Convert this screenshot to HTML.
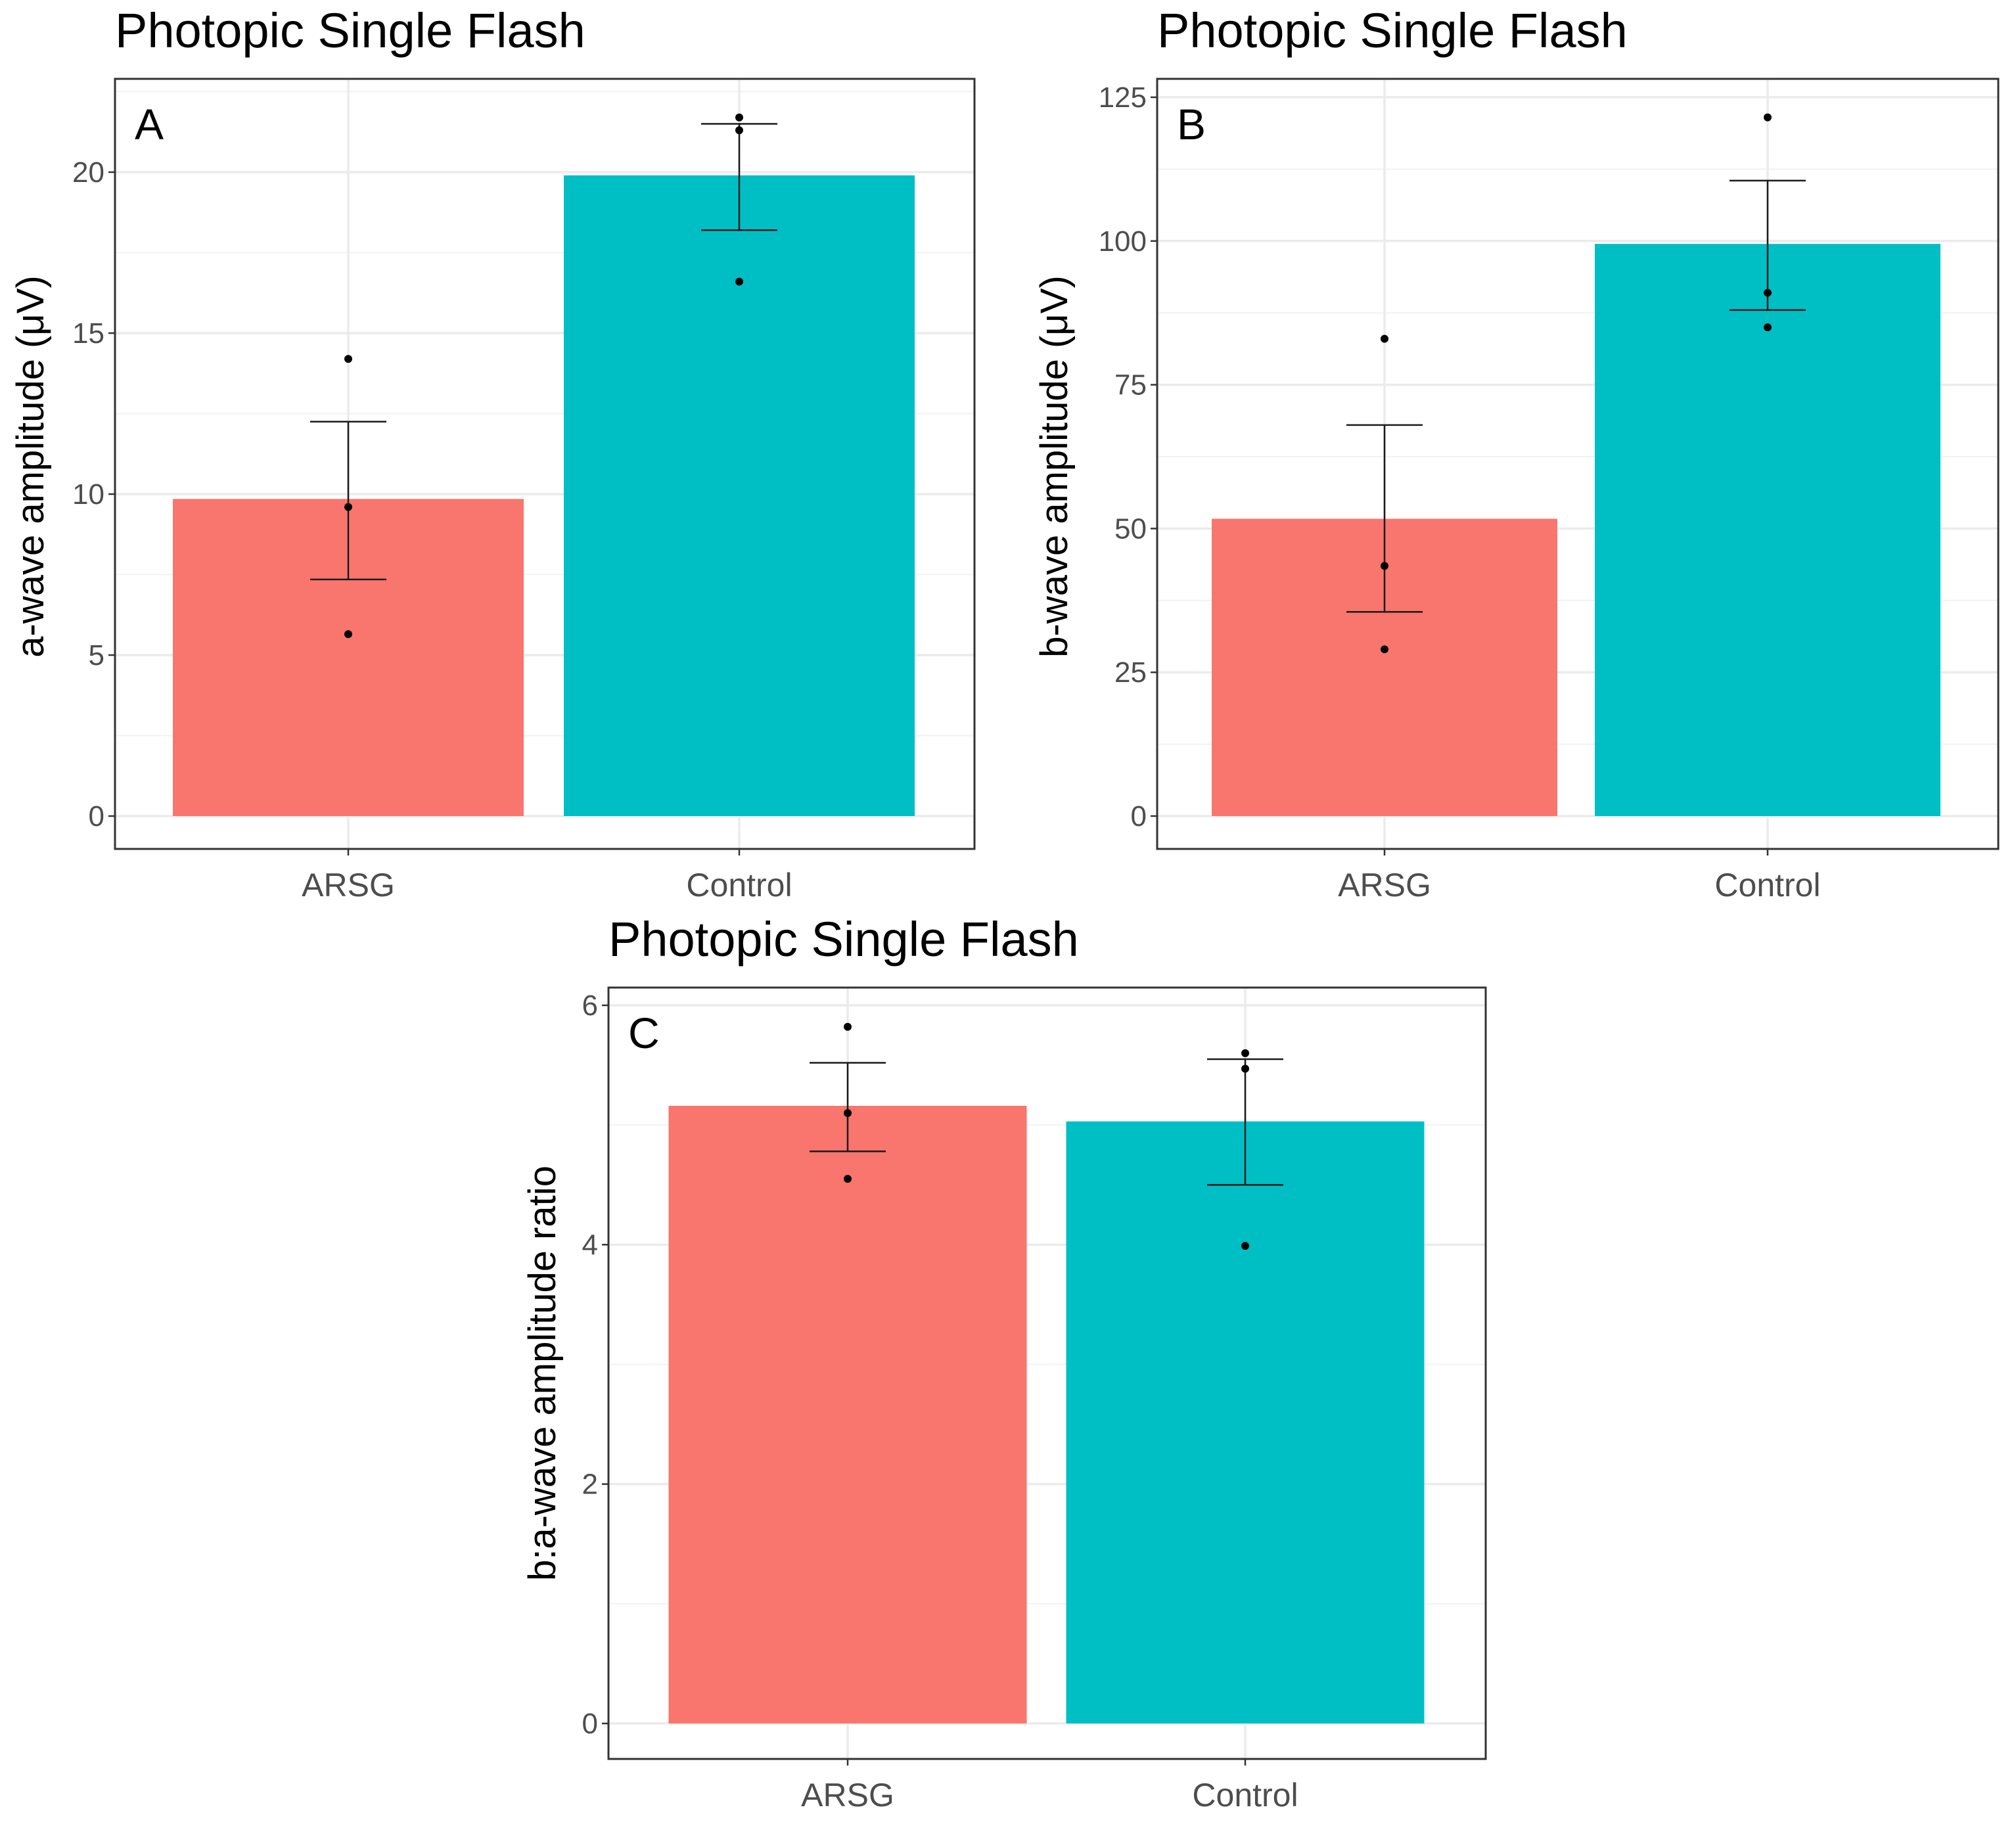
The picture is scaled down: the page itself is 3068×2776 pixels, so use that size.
<!DOCTYPE html>
<html><head><meta charset="utf-8"><style>
html,body{margin:0;padding:0;background:#fff}
svg{display:block}
text{font-family:"Liberation Sans",sans-serif}
</style></head><body>
<svg id="chart" width="3068" height="2776" viewBox="0 0 3068 2776" xmlns="http://www.w3.org/2000/svg"></svg>
<script>
// Panel A data
const categories = ["ARSG", "Control"];
const aMeans = [9.85, 19.9];
const aErrHi = [12.25, 21.5];
const aErrLo = [7.35, 18.2];
const aPoints = [[14.2, 9.6, 5.65], [21.7, 21.3, 16.6]];
const aTicks = [0, 5, 10, 15, 20];
// Panel B data
const bMeans = [51.7, 99.5];
const bErrHi = [68, 110.5];
const bErrLo = [35.5, 88];
const bPoints = [[83, 43.5, 29], [121.5, 91, 85]];
const bTicks = [0, 25, 50, 75, 100, 125];
// Panel C data
const cMeans = [5.16, 5.03];
const cErrHi = [5.52, 5.55];
const cErrLo = [4.78, 4.5];
const cPoints = [[5.82, 5.1, 4.55], [5.6, 5.47, 3.99]];
const cTicks = [0, 2, 4, 6];
const barColors = ["#f8766d", "#00bfc4"];

const NS = "http://www.w3.org/2000/svg";
const svg = document.getElementById("chart");
function mk(tag, attrs, parent, txt) {
  const e = document.createElementNS(NS, tag);
  for (const k in attrs) e.setAttribute(k, attrs[k]);
  if (txt !== undefined) e.textContent = txt;
  (parent || svg).appendChild(e);
  return e;
}

function panel(cfg) {
  const g = mk("g", {});
  
  
  const y = v => cfg.y0 - v * (cfg.y0 - cfg.yTopPx) / cfg.yTopVal;
  const L = cfg.box[0], R = cfg.box[1], T = cfg.box[2], B = cfg.box[3];
  mk("rect", {x: L, y: T, width: R - L, height: B - T, fill: "#fff"}, g);
  const step = cfg.ticks[1] - cfg.ticks[0];
  for (let i = 0; i < cfg.ticks.length; i++) {
    const mv = cfg.ticks[i] + step / 2;
    if (y(mv) <= T) continue;
    const gl = mk("line", {x1: L, x2: R, y1: y(mv), y2: y(mv), stroke: "#f2f2f2", "stroke-width": 2}, g);
    
    
  }
  cfg.ticks.forEach(t => {
    const gl = mk("line", {x1: L, x2: R, y1: y(t), y2: y(t), stroke: "#ebebeb", "stroke-width": 3.5}, g);
    
    
    mk("line", {x1: L - 10, x2: L, y1: y(t), y2: y(t), stroke: "#333", "stroke-width": 2.5}, g);
    const tl = mk("text", {x: L - 16, y: y(t) + 15, "text-anchor": "end", "font-size": 44, fill: "#4d4d4d"}, g, String(t));
    
    
  });
  cfg.cx.forEach(cx => {
    mk("line", {x1: cx, x2: cx, y1: T, y2: B, stroke: "#ebebeb", "stroke-width": 3.5}, g);
  });
  categories.forEach((c, i) => {
    const bar = mk("rect", {x: cfg.cx[i] - cfg.bw / 2, y: y(cfg.means[i]), width: cfg.bw, height: y(0) - y(cfg.means[i]), fill: barColors[i]}, g);
    
    
    const eb = mk("g", {stroke: "#1a1a1a", "stroke-width": 2.5}, g);
    
    
    mk("line", {x1: cfg.cx[i], x2: cfg.cx[i], y1: y(cfg.hi[i]), y2: y(cfg.lo[i])}, eb);
    mk("line", {x1: cfg.cx[i] - 58, x2: cfg.cx[i] + 58, y1: y(cfg.hi[i]), y2: y(cfg.hi[i])}, eb);
    mk("line", {x1: cfg.cx[i] - 58, x2: cfg.cx[i] + 58, y1: y(cfg.lo[i]), y2: y(cfg.lo[i])}, eb);
    cfg.pts[i].forEach(p => {
      const pt = mk("circle", {cx: cfg.cx[i], cy: y(p), r: 6, fill: "#000"}, g);
      
      
    });
    mk("line", {x1: cfg.cx[i], x2: cfg.cx[i], y1: B, y2: B + 10, stroke: "#333", "stroke-width": 2.5}, g);
    const xl = mk("text", {x: cfg.cx[i], y: B + 72, "text-anchor": "middle", "font-size": 50, fill: "#4d4d4d"}, g, c);
    
    
  });
  mk("rect", {x: L, y: T, width: R - L, height: B - T, fill: "none", stroke: "#333", "stroke-width": 3}, g);
  const tt = mk("text", {x: L, y: T - 48, "font-size": 74, fill: "#000"}, g, "Photopic Single Flash");
  
  
  const pl = mk("text", {x: L + 30, y: T + 92, "font-size": 66, fill: "#000"}, g, cfg.letter);
  
  
  const yt = mk("text", {x: 0, y: 0, "text-anchor": "middle", "font-size": 58, fill: "#000",
    transform: "translate(" + cfg.ytx + "," + cfg.yty + ") rotate(-90)"}, g, cfg.ytitle);
  
  
}

panel({name: "panel-a", letter: "A", box: [175, 1483, 120, 1292], y0: 1242, yTopPx: 262, yTopVal: 20,
  ticks: aTicks, cx: [530, 1125], bw: 534, means: aMeans, hi: aErrHi, lo: aErrLo, pts: aPoints,
  ytx: 66, yty: 710, ytitle: "a-wave amplitude (μV)"});
panel({name: "panel-b", letter: "B", box: [1761, 3041, 120, 1292], y0: 1242, yTopPx: 148, yTopVal: 125,
  ticks: bTicks, cx: [2107, 2690], bw: 526, means: bMeans, hi: bErrHi, lo: bErrLo, pts: bPoints,
  ytx: 1624, yty: 710, ytitle: "b-wave amplitude (μV)"});
panel({name: "panel-c", letter: "C", box: [926, 2261, 1503, 2677], y0: 2623, yTopPx: 1530, yTopVal: 6,
  ticks: cTicks, cx: [1290, 1895], bw: 545, means: cMeans, hi: cErrHi, lo: cErrLo, pts: cPoints,
  ytx: 845, yty: 2090, ytitle: "b:a-wave amplitude ratio"});
</script>
</body></html>
